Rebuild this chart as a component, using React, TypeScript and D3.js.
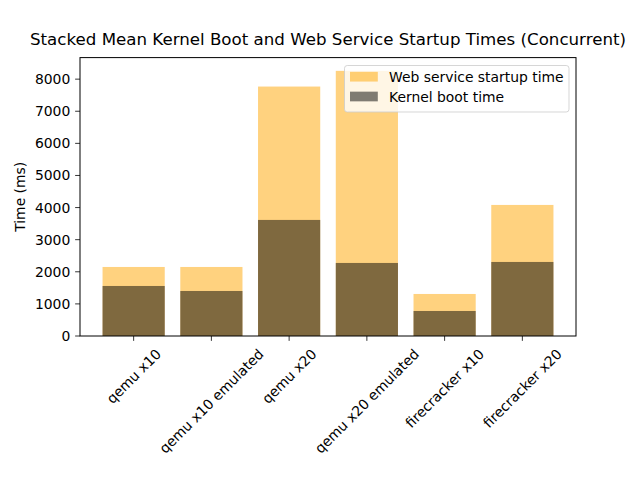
import React, { useEffect, useRef } from "react";
import * as d3 from "d3";

const categories = [
  "qemu x10",
  "qemu x10 emulated",
  "qemu x20",
  "qemu x20 emulated",
  "firecracker x10",
  "firecracker x20",
];
const kernelBoot = [1558, 1402, 3615, 2275, 779, 2306];
const webStartup = [592, 748, 4154, 5983, 530, 1776];
const yTicks = [0, 1000, 2000, 3000, 4000, 5000, 6000, 7000, 8000];
const title = "Stacked Mean Kernel Boot and Web Service Startup Times (Concurrent)";
const yLabel = "Time (ms)";
const legendLabels = ["Web service startup time", "Kernel boot time"];

const W = 640;
const H = 480;
const FONT = "DejaVu Sans, sans-serif";
const FS = 13.9;

export default function App() {
  const ref = useRef<SVGSVGElement>(null);

  useEffect(() => {
    const svg = d3.select(ref.current);
    svg.selectAll("*").remove();

    const left = 80, right = 576, top = 57.6, bottom = 336;
    const totals = kernelBoot.map((k, i) => k + webStartup[i]);
    const ymax = (d3.max(totals) as number) * 1.05;
    const n = categories.length;
    const pad = (n - 1 + 0.8) * 0.05;
    const x = d3.scaleLinear().domain([-0.4 - pad, n - 1 + 0.4 + pad]).range([left, right]);
    const y = d3.scaleLinear().domain([0, ymax]).range([bottom, top]);
    const bw = x(0.4) - x(-0.4);

    svg.append("rect").attr("width", W).attr("height", H).attr("fill", "white");

    const g = svg.append("g");
    // web service bars (full height, orange alpha 0.5)
    g.selectAll("rect.web")
      .data(totals)
      .join("rect")
      .attr("class", "web")
      .attr("x", (_, i) => x(i) - bw / 2)
      .attr("width", bw)
      .attr("y", (d) => y(d))
      .attr("height", (d) => y(0) - y(d))
      .attr("fill", "orange")
      .attr("fill-opacity", 0.5);
    g.selectAll("rect.kern")
      .data(kernelBoot)
      .join("rect")
      .attr("class", "kern")
      .attr("x", (_, i) => x(i) - bw / 2)
      .attr("width", bw)
      .attr("y", (d) => y(d))
      .attr("height", (d) => y(0) - y(d))
      .attr("fill", "black")
      .attr("fill-opacity", 0.5);

    // axes frame
    svg.append("rect")
      .attr("x", left).attr("y", top)
      .attr("width", right - left).attr("height", bottom - top)
      .attr("fill", "none").attr("stroke", "black").attr("stroke-width", 1);

    const tickLen = 4.86;
    // y ticks
    yTicks.forEach((t) => {
      svg.append("line")
        .attr("x1", left - tickLen).attr("x2", left)
        .attr("y1", y(t)).attr("y2", y(t))
        .attr("stroke", "black").attr("stroke-width", 0.8);
      svg.append("text")
        .attr("x", left - tickLen - 4.86)
        .attr("y", y(t))
        .attr("text-anchor", "end")
        .attr("dominant-baseline", "central")
        .attr("font-family", FONT)
        .attr("font-size", FS)
        .attr("fill", "black")
        .text(String(t));
    });

    // x ticks
    categories.forEach((c, i) => {
      const cx = x(i);
      svg.append("line")
        .attr("x1", cx).attr("x2", cx)
        .attr("y1", bottom).attr("y2", bottom + tickLen)
        .attr("stroke", "black").attr("stroke-width", 0.8);
      const t = svg.append("text")
        .attr("text-anchor", "middle")
        .attr("dominant-baseline", "central")
        .attr("font-family", FONT)
        .attr("font-size", FS)
        .attr("fill", "black")
        .text(c);
      const w = (t.node() as SVGTextElement).getComputedTextLength();
      const h = FS * 1.165;
      const half = ((w + h) * Math.SQRT1_2) / 2;
      const cy = bottom + tickLen + 4.86 + half;
      t.attr("transform", `translate(${cx},${cy}) rotate(-45)`);
    });

    // y label
    svg.append("text")
      .attr("transform", `translate(25,${(top + bottom) / 2}) rotate(-90)`)
      .attr("text-anchor", "middle")
      .attr("font-family", FONT)
      .attr("font-size", FS)
      .attr("fill", "black")
      .text(yLabel);

    // title
    svg.append("text")
      .attr("x", (left + right) / 2)
      .attr("y", 45.4)
      .attr("text-anchor", "middle")
      .attr("font-family", FONT)
      .attr("font-size", 16.67)
      .attr("fill", "black")
      .text(title);

    // legend
    const lg = svg.append("g");
    lg.append("rect")
      .attr("x", 344.5).attr("y", 65.5)
      .attr("width", 224.5).attr("height", 46.5)
      .attr("rx", 2.8).attr("ry", 2.8)
      .attr("fill", "white").attr("fill-opacity", 0.8)
      .attr("stroke", "#cccccc").attr("stroke-opacity", 0.8).attr("stroke-width", 1);
    const sw = [
      { label: legendLabels[0], color: "orange" },
      { label: legendLabels[1], color: "black" },
    ];
    sw.forEach((s, i) => {
      const cy = 76.7 + i * 19.8;
      lg.append("rect")
        .attr("x", 350).attr("y", cy - 4.85)
        .attr("width", 27.8).attr("height", 9.7)
        .attr("fill", s.color).attr("fill-opacity", 0.5);
      lg.append("text")
        .attr("x", 389)
        .attr("y", cy)
        .attr("dominant-baseline", "central")
        .attr("font-family", FONT)
        .attr("font-size", FS)
        .attr("fill", "black")
        .text(s.label);
    });
  }, []);

  return (
    <svg
      ref={ref}
      width={W}
      height={H}
      style={{ position: "absolute", left: 0, top: 0, display: "block" }}
    />
  );
}
